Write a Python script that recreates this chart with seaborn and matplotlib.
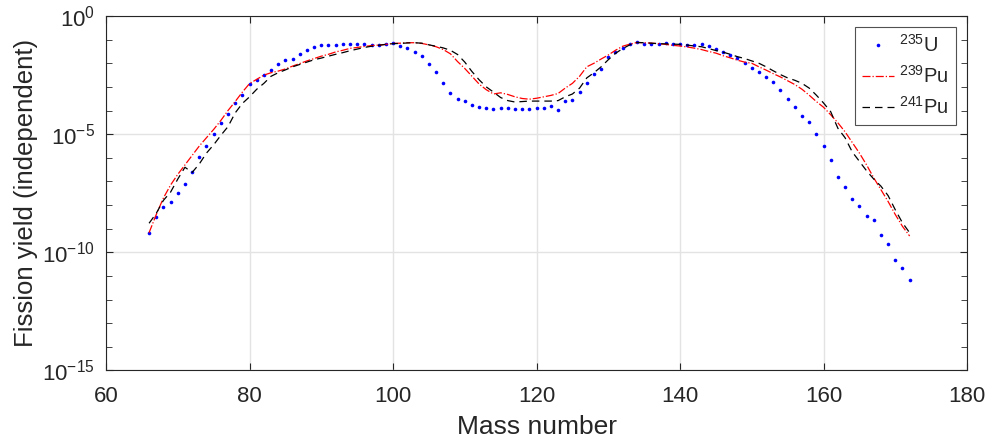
import matplotlib
matplotlib.use("Agg")
import matplotlib.pyplot as plt
import matplotlib.ticker as mticker
import numpy as np
import pandas as pd
import seaborn as sns

# mass numbers shared by all three series
mass = list(range(66, 173))

# log10 of independent fission yield
u235_log10 = [
    -9.17, -8.49, -8.10, -7.86, -7.47, -7.10, -6.59, -5.98, -5.50, -4.99,
    -4.52, -4.14, -3.68, -3.36, -2.89, -2.71, -2.48, -2.27, -2.04, -1.88,
    -1.84, -1.59, -1.44, -1.30, -1.22, -1.22, -1.22, -1.20, -1.18, -1.18,
    -1.19, -1.22, -1.22, -1.19, -1.16, -1.26, -1.37, -1.52, -1.71, -2.01,
    -2.39, -2.83, -3.26, -3.51, -3.60, -3.75, -3.87, -3.88, -3.92, -3.88,
    -3.88, -3.94, -3.95, -3.92, -3.91, -3.90, -3.81, -3.97, -3.58, -3.54,
    -3.23, -2.82, -2.45, -2.25, -1.73, -1.53, -1.36, -1.18, -1.09, -1.18,
    -1.20, -1.19, -1.16, -1.19, -1.19, -1.22, -1.22, -1.20, -1.25, -1.40,
    -1.52, -1.63, -1.77, -1.97, -2.18, -2.39, -2.56, -2.80, -3.13, -3.50,
    -3.84, -4.22, -4.49, -5.00, -5.51, -6.08, -6.81, -7.22, -7.75, -8.05,
    -8.46, -8.64, -9.28, -9.65, -10.33, -10.68, -11.15,
]
pu239_log10 = [
    -9.17, -8.40, -7.70, -7.15, -6.70, -6.30, -5.90, -5.50, -5.15, -4.80,
    -4.42, -4.00, -3.62, -3.22, -2.86, -2.68, -2.50, -2.40, -2.33, -2.24,
    -2.12, -2.01, -1.90, -1.80, -1.70, -1.62, -1.52, -1.45, -1.37, -1.33,
    -1.29, -1.25, -1.23, -1.20, -1.16, -1.15, -1.13, -1.13, -1.16, -1.22,
    -1.30, -1.42, -1.60, -1.93, -2.22, -2.55, -2.88, -3.12, -3.30, -3.25,
    -3.32, -3.42, -3.49, -3.52, -3.48, -3.42, -3.36, -3.28, -3.05, -2.85,
    -2.55, -2.15, -2.00, -1.82, -1.65, -1.45, -1.28, -1.19, -1.12, -1.13,
    -1.15, -1.17, -1.20, -1.24, -1.27, -1.31, -1.36, -1.42, -1.50, -1.57,
    -1.68, -1.77, -1.87, -1.95, -2.00, -2.15, -2.29, -2.44, -2.58, -2.74,
    -2.90, -3.10, -3.35, -3.62, -3.86, -4.18, -4.52, -4.90, -5.35, -5.80,
    -6.30, -6.85, -7.35, -7.85, -8.40, -8.90, -9.31,
]
pu241_log10 = [
    -8.77, -8.35, -7.80, -7.45, -6.90, -6.40, -6.62, -6.26, -5.80, -5.45,
    -5.05, -4.68, -4.10, -3.70, -3.42, -3.10, -2.85, -2.55, -2.40, -2.28,
    -2.15, -2.05, -1.95, -1.85, -1.78, -1.70, -1.62, -1.55, -1.47, -1.40,
    -1.33, -1.28, -1.24, -1.20, -1.17, -1.16, -1.14, -1.13, -1.15, -1.22,
    -1.28, -1.35, -1.45, -1.63, -1.95, -2.35, -2.70, -3.00, -3.22, -3.45,
    -3.58, -3.64, -3.62, -3.60, -3.60, -3.60, -3.60, -3.58, -3.42, -3.30,
    -3.05, -2.62, -2.40, -2.15, -1.85, -1.58, -1.38, -1.22, -1.12, -1.13,
    -1.15, -1.17, -1.18, -1.19, -1.20, -1.23, -1.27, -1.30, -1.38, -1.46,
    -1.53, -1.62, -1.72, -1.80, -1.90, -2.00, -2.15, -2.32, -2.48, -2.62,
    -2.72, -2.85, -3.05, -3.35, -3.68, -4.05, -4.75, -5.15, -5.75, -6.15,
    -6.55, -6.90, -7.20, -7.60, -8.20, -8.75, -9.17,
]

labels = [r'$^{235}$U', r'$^{239}$Pu', r'$^{241}$Pu']
xticks = [60, 80, 100, 120, 140, 160, 180]

sns.set_style('ticks')
plt.rcParams['font.family'] = ['Liberation Sans', 'DejaVu Sans']
plt.rcParams['mathtext.fontset'] = 'custom'
plt.rcParams['mathtext.rm'] = 'Liberation Sans'
plt.rcParams['mathtext.it'] = 'Liberation Sans'
plt.rcParams['mathtext.default'] = 'regular'
plt.rcParams['axes.unicode_minus'] = False

df = pd.DataFrame({
    'A': mass,
    'u235': 10.0 ** np.array(u235_log10),
    'pu239': 10.0 ** np.array(pu239_log10),
    'pu241': 10.0 ** np.array(pu241_log10),
})

fig = plt.figure(figsize=(9.9, 4.46), dpi=100)
ax = fig.add_axes([0.1071, 0.1693, 0.8697, 0.7948])

sns.lineplot(data=df, x='A', y='u235', ax=ax, color='blue', linestyle='none',
             marker='o', markersize=2.6, markeredgewidth=0, label=labels[0])
sns.lineplot(data=df, x='A', y='pu239', ax=ax, color='red', linestyle='-.',
             linewidth=0.9, label=labels[1])
sns.lineplot(data=df, x='A', y='pu241', ax=ax, color='black', linewidth=0.9,
             dashes=False, label=labels[2])
ax.lines[-1].set_dashes([6, 4])

ax.set_yscale('log')
ax.set_xlim(60, 180)
ax.set_ylim(1e-15, 1e0)
ax.set_xticks(xticks)
ax.yaxis.set_major_locator(mticker.FixedLocator([1e-15, 1e-10, 1e-5, 1e0]))
ax.yaxis.set_minor_locator(mticker.FixedLocator(
    [10.0 ** k for k in range(-15, 1) if k % 5 != 0]))
ax.yaxis.set_major_formatter(mticker.LogFormatterSciNotation())
ax.yaxis.set_minor_formatter(mticker.NullFormatter())

ax.grid(True, which='major', color='#e3e3e3', linewidth=1.0)
ax.tick_params(which='both', direction='in', top=True, right=True,
               colors='0.15', labelcolor='0.15', labelsize=16)
ax.tick_params(which='major', length=5)
ax.tick_params(which='minor', length=4)
ax.tick_params(axis='x', pad=11)
ax.tick_params(axis='y', pad=8)
for s in ax.spines.values():
    s.set_color('0.15')
    s.set_linewidth(0.8)

ax.set_xlabel('Mass number', fontsize=19, color='0.15', labelpad=6)
ax.set_ylabel('Fission yield (independent)', fontsize=18.5, color='0.15', labelpad=3)

leg = ax.legend(loc='upper right', fontsize=14.5, frameon=True, fancybox=False,
                borderaxespad=0.55, handlelength=1.6, handletextpad=0.25,
                labelspacing=0.45, borderpad=0.35)
leg.get_frame().set_edgecolor('0.15')
leg.get_frame().set_linewidth(0.8)

fig.savefig('out.png', dpi=100)
